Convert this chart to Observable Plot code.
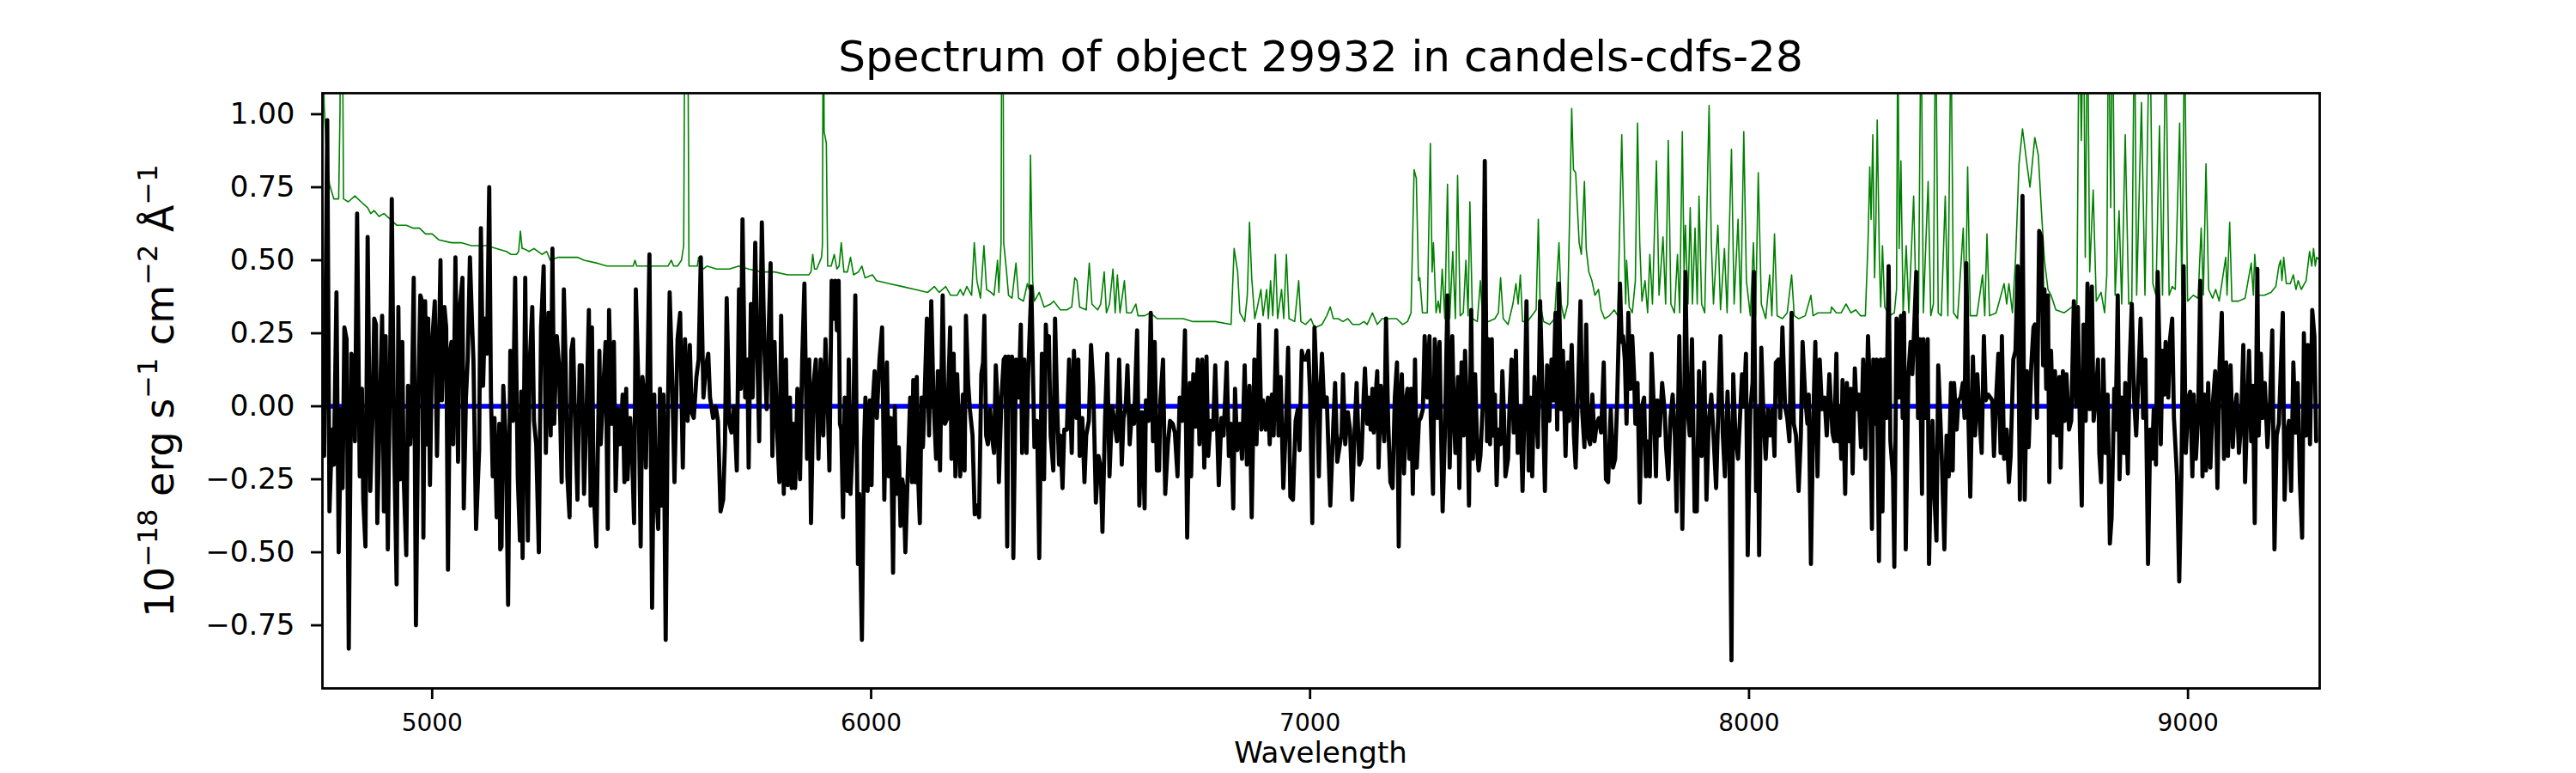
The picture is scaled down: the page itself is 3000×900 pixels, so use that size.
<!DOCTYPE html>
<html><head><meta charset="utf-8">
<script src="https://cdn.jsdelivr.net/npm/d3@7"></script>
<script src="https://cdn.jsdelivr.net/npm/@observablehq/plot@0.6"></script>
<style>body{margin:0;background:#fff}#chart svg{display:block}</style>
</head><body><div id="chart"></div>
<script>
const titleText = "Spectrum of object 29932 in candels-cdfs-28";
const xLabelText = "Wavelength";
const xTicks = [5000, 6000, 7000, 8000, 9000];
const yTicks = [-0.75, -0.5, -0.25, 0, 0.25, 0.5, 0.75, 1.0];
const xDomain = [4750, 9300];
const yDomain = [-0.966, 1.072];

// observed flux [wavelength, flux]
const observedFlux = [
[4754,-0.17],[4761,0.98],[4766,-0.36],[4772,-0.08],[4776,-0.20],[4782,0.39],[4787,-0.50],[4793,-0.01],[4796,-0.28],[4800,0.27],[4805,0.23],[4810,-0.83],[4816,0.18],[4820,0.16],[4824,-0.12],[4829,0.66],[4835,-0.24],[4840,0.06],[4843,-0.32],[4848,-0.48],[4853,0.58],[4859,-0.29],[4864,-0.04],[4868,0.30],[4872,0.28],[4875,-0.40],[4881,0.00],[4886,0.31],[4890,-0.36],[4894,0.24],[4899,-0.49],[4905,0.26],[4908,0.71],[4913,-0.10],[4919,-0.61],[4923,0.34],[4927,-0.25],[4932,0.22],[4935,-0.24],[4941,-0.51],[4945,0.07],[4950,-0.13],[4953,-0.04],[4958,0.44],[4963,-0.75],[4969,0.08],[4973,0.38],[4977,0.36],[4980,-0.45],[4984,0.36],[4988,-0.13],[4991,0.30],[4995,-0.27],[5000,0.22],[5006,0.36],[5011,-0.17],[5019,0.50],[5022,0.02],[5028,0.34],[5032,0.27],[5036,-0.56],[5041,0.19],[5044,0.22],[5048,-0.13],[5053,0.51],[5059,-0.19],[5063,0.34],[5069,0.44],[5072,-0.35],[5077,0.03],[5081,0.16],[5086,0.51],[5091,0.28],[5094,0.16],[5100,-0.42],[5107,-0.15],[5111,0.61],[5116,0.07],[5120,0.30],[5125,0.18],[5130,0.75],[5134,0.03],[5138,-0.24],[5142,-0.04],[5147,-0.38],[5153,-0.06],[5155,-0.49],[5158,-0.48],[5162,0.07],[5168,-0.13],[5173,-0.68],[5178,0.19],[5184,-0.05],[5189,0.44],[5195,-0.24],[5200,-0.46],[5203,0.05],[5206,-0.52],[5212,0.44],[5218,-0.46],[5222,0.14],[5228,0.34],[5232,-0.05],[5237,-0.13],[5243,-0.50],[5248,0.27],[5254,0.48],[5259,-0.16],[5265,0.32],[5270,-0.10],[5274,0.54],[5278,-0.06],[5284,0.24],[5289,0.14],[5295,-0.26],[5300,0.40],[5304,0.15],[5308,-0.24],[5313,-0.38],[5317,0.19],[5321,0.23],[5325,-0.02],[5331,-0.32],[5336,0.14],[5341,0.14],[5346,-0.30],[5352,0.00],[5357,0.33],[5361,-0.34],[5364,0.27],[5368,-0.29],[5374,-0.48],[5381,0.19],[5384,-0.13],[5390,0.06],[5395,0.22],[5400,-0.42],[5403,0.33],[5409,-0.06],[5414,0.22],[5418,-0.29],[5423,-0.01],[5428,-0.13],[5434,0.04],[5438,-0.26],[5442,0.06],[5445,-0.25],[5451,-0.04],[5455,-0.14],[5460,-0.40],[5464,0.40],[5470,0.06],[5475,-0.48],[5479,0.10],[5483,0.04],[5487,-0.21],[5495,0.52],[5501,-0.69],[5506,0.04],[5509,-0.26],[5515,-0.42],[5519,0.06],[5523,-0.34],[5527,0.04],[5532,-0.80],[5536,-0.13],[5541,0.39],[5546,0.14],[5552,-0.26],[5559,0.23],[5565,0.32],[5571,-0.21],[5576,0.23],[5582,-0.05],[5587,0.21],[5591,-0.02],[5596,-0.04],[5602,0.10],[5607,0.16],[5612,0.51],[5618,0.03],[5624,0.14],[5629,0.18],[5633,0.03],[5640,-0.04],[5646,0.00],[5651,-0.05],[5657,-0.36],[5663,-0.32],[5667,-0.13],[5671,0.37],[5677,-0.06],[5682,-0.09],[5688,0.00],[5694,-0.22],[5699,0.40],[5703,0.06],[5707,0.64],[5713,0.03],[5718,0.16],[5721,-0.21],[5726,0.35],[5730,0.03],[5736,0.56],[5740,0.23],[5745,-0.12],[5751,0.63],[5757,0.19],[5762,-0.01],[5767,0.28],[5771,0.49],[5775,-0.17],[5780,0.22],[5786,-0.09],[5791,-0.26],[5795,0.31],[5801,-0.30],[5806,0.16],[5810,-0.27],[5815,0.03],[5819,-0.28],[5823,-0.06],[5827,-0.28],[5832,0.06],[5838,-0.25],[5843,0.16],[5848,0.42],[5854,-0.18],[5859,0.16],[5863,-0.40],[5869,0.08],[5874,0.16],[5880,-0.18],[5885,0.16],[5891,-0.10],[5896,0.23],[5902,-0.04],
[5905,-0.22],[5910,0.43],[5915,0.30],[5918,0.43],[5922,0.26],[5926,0.43],[5929,-0.06],[5932,-0.08],[5936,-0.38],[5940,0.03],[5946,-0.29],[5949,0.16],[5953,-0.30],[5959,-0.09],[5964,0.38],[5970,-0.54],[5973,-0.30],[5979,-0.80],[5984,-0.13],[5987,0.03],[5992,-0.29],[5997,0.02],[6001,-0.27],[6004,0.02],[6008,0.12],[6013,-0.04],[6019,0.16],[6025,0.27],[6030,-0.32],[6036,0.15],[6040,-0.24],[6045,-0.04],[6050,-0.57],[6054,0.00],[6057,-0.30],[6063,-0.14],[6067,-0.41],[6071,-0.25],[6074,-0.28],[6078,-0.50],[6084,-0.20],[6089,0.03],[6093,-0.26],[6096,0.09],[6100,-0.26],[6104,0.10],[6107,-0.24],[6111,-0.40],[6115,0.03],[6118,-0.14],[6122,0.04],[6127,0.30],[6132,-0.10],[6137,0.36],[6142,0.03],[6148,-0.18],[6152,0.12],[6157,-0.22],[6163,0.38],[6168,-0.06],[6174,-0.04],[6180,0.27],[6183,-0.18],[6188,0.18],[6192,-0.24],[6196,0.11],[6199,-0.04],[6203,-0.24],[6209,0.04],[6213,-0.22],[6216,0.31],[6221,0.08],[6225,-0.01],[6231,-0.10],[6236,-0.37],[6241,-0.34],[6246,-0.38],[6251,0.11],[6255,0.15],[6258,0.31],[6262,-0.10],[6266,-0.13],[6271,-0.01],[6275,-0.10],[6280,-0.16],[6284,0.14],[6288,0.02],[6291,-0.26],[6297,0.03],[6302,0.16],[6306,0.17],[6310,-0.48],[6313,0.17],[6317,0.00],[6321,0.17],[6324,-0.52],[6330,0.16],[6336,0.03],[6341,0.28],[6344,-0.16],[6349,0.16],[6354,-0.16],[6358,0.12],[6365,0.41],[6372,-0.14],[6378,-0.05],[6383,-0.52],[6389,0.18],[6394,-0.25],[6398,0.28],[6402,0.16],[6405,0.24],[6409,-0.10],[6415,-0.22],[6419,0.30],[6424,-0.01],[6428,-0.20],[6431,-0.10],[6436,-0.28],[6440,-0.08],[6446,-0.08],[6451,0.16],[6457,-0.16],[6462,0.19],[6468,-0.04],[6472,0.16],[6475,-0.17],[6481,-0.04],[6486,-0.26],[6490,-0.10],[6496,-0.05],[6501,0.21],[6506,0.07],[6512,-0.33],[6518,-0.17],[6523,-0.21],[6527,-0.43],[6533,-0.04],[6538,0.18],[6543,-0.24],[6549,0.00],[6554,-0.05],[6560,-0.12],[6565,0.16],[6571,-0.20],[6575,-0.04],[6580,0.00],[6584,0.14],[6589,-0.13],[6595,0.00],[6599,-0.06],[6606,0.26],[6611,-0.34],[6617,-0.02],[6623,-0.35],[6626,0.02],[6632,-0.05],[6637,0.32],[6642,-0.12],[6646,0.22],[6651,-0.22],[6656,-0.22],[6659,0.02],[6665,0.16],[6670,-0.30],[6676,-0.13],[6681,-0.05],[6687,-0.06],[6692,-0.09],[6698,-0.24],[6703,0.03],[6709,-0.05],[6715,0.26],[6720,-0.45],[6726,0.08],[6729,-0.24],[6734,0.11],[6739,-0.07],[6744,0.16],[6748,-0.13],[6754,0.16],[6759,-0.21],[6764,0.17],[6768,-0.17],[6773,-0.05],[6779,-0.08],[6784,0.14],[6792,-0.27],[6798,-0.04],[6803,-0.10],[6810,0.15],[6815,-0.17],[6820,-0.06],[6825,-0.35],[6829,0.06],[6834,-0.15],[6840,-0.06],[6845,-0.18],[6851,0.14],[6856,-0.20],[6862,0.07],[6867,-0.38],[6873,0.16],[6878,-0.13],[6884,0.28],[6889,-0.08],[6893,0.02],[6899,-0.08],[6904,0.03],[6908,-0.13],[6913,0.04],[6917,-0.10],[6923,0.26],[6928,-0.10],[6933,0.10],[6939,-0.28],[6945,-0.06],[6950,0.20],[6955,-0.31],[6961,-0.32],[6967,-0.05],[6972,-0.01],[6976,-0.15],[6981,0.19],[6985,0.16],[6990,0.16],[6996,0.19],[7000,0.04],[7005,-0.40],[7010,0.27],[7016,0.03],[7020,-0.24],[7024,0.07],[7027,0.18],[7032,0.00],[7038,0.03],[7046,-0.34],
[7053,-0.06],[7057,0.08],[7062,-0.19],[7068,-0.13],[7072,-0.09],[7075,0.11],[7080,-0.13],[7086,-0.02],[7091,-0.08],[7096,-0.32],[7101,-0.10],[7106,0.08],[7112,-0.20],[7117,-0.18],[7122,0.03],[7125,0.13],[7130,-0.06],[7134,0.03],[7138,-0.08],[7142,0.06],[7145,-0.09],[7149,0.03],[7153,0.12],[7156,-0.21],[7161,0.07],[7166,-0.06],[7169,-0.12],[7173,0.30],[7178,-0.06],[7183,-0.26],[7188,-0.28],[7193,0.03],[7198,0.15],[7202,-0.48],[7206,0.02],[7209,0.11],[7214,-0.23],[7219,0.03],[7222,0.06],[7226,-0.18],[7230,0.06],[7234,-0.30],[7239,0.16],[7243,-0.21],[7248,-0.05],[7252,-0.04],[7257,-0.01],[7261,0.24],[7267,0.03],[7272,0.24],[7275,-0.04],[7280,-0.30],[7284,0.23],[7287,0.16],[7290,-0.04],[7295,0.22],[7298,-0.06],[7302,-0.36],[7307,-0.10],[7313,0.38],[7318,-0.21],[7324,0.24],[7328,-0.05],[7331,-0.16],[7337,0.10],[7340,-0.28],[7345,0.15],[7350,-0.10],[7353,0.19],[7359,-0.08],[7362,-0.34],[7367,0.33],[7371,-0.18],[7376,0.11],[7381,-0.16],[7384,-0.22],[7388,-0.17],[7393,-0.01],[7398,0.84],[7403,-0.12],[7406,0.23],[7410,-0.13],[7414,0.23],[7417,-0.10],[7421,0.04],[7425,-0.27],[7429,-0.08],[7434,-0.13],[7438,0.12],[7442,-0.04],[7445,-0.24],[7451,-0.18],[7454,-0.02],[7459,0.16],[7464,-0.09],[7469,0.19],[7473,-0.16],[7479,0.00],[7484,-0.29],[7489,0.02],[7493,0.36],[7498,-0.22],[7502,0.03],[7506,-0.24],[7511,0.10],[7515,0.00],[7519,-0.14],[7524,0.36],[7530,0.03],[7535,-0.29],[7540,0.14],[7545,-0.05],[7550,0.16],[7554,0.02],[7559,0.32],[7563,-0.08],[7567,0.42],[7572,-0.01],[7576,0.19],[7582,-0.17],[7587,0.15],[7590,-0.05],[7596,0.21],[7601,-0.10],[7605,-0.21],[7610,0.03],[7616,0.36],[7620,-0.02],[7625,-0.14],[7629,0.28],[7633,-0.10],[7638,-0.13],[7643,0.04],[7648,-0.12],[7653,-0.06],[7658,-0.04],[7663,-0.09],[7669,0.15],[7674,-0.25],[7679,-0.26],[7685,-0.01],[7690,-0.21],[7695,-0.18],[7699,-0.01],[7706,0.42],[7710,0.22],[7713,0.24],[7717,0.16],[7721,-0.06],[7725,0.32],[7730,0.06],[7734,0.24],[7738,0.11],[7741,-0.06],[7746,0.08],[7751,-0.33],[7756,0.00],[7761,0.03],[7765,-0.24],[7769,-0.12],[7774,-0.24],[7778,0.18],[7783,0.00],[7788,-0.24],[7791,0.02],[7796,-0.10],[7802,0.08],[7808,-0.02],[7811,-0.14],[7816,-0.25],[7821,-0.04],[7826,0.04],[7831,-0.10],[7835,-0.36],[7841,0.24],[7844,0.00],[7848,-0.42],[7852,-0.08],[7855,0.46],[7860,-0.01],[7865,-0.10],[7870,0.23],[7876,-0.36],[7881,-0.36],[7886,0.12],[7892,-0.17],[7898,0.15],[7903,-0.32],[7908,-0.06],[7914,0.04],[7919,-0.10],[7925,-0.28],[7930,-0.01],[7935,0.24],[7940,-0.09],[7945,-0.24],[7951,0.05],[7955,-0.10],[7960,-0.87],[7964,0.11],[7969,-0.10],[7975,-0.18],[7979,-0.05],[7984,0.11],[7988,0.00],[7993,0.18],[7997,-0.51],[8003,-0.01],[8008,0.08],[8011,0.46],[8016,-0.29],[8020,-0.01],[8023,-0.51],[8028,0.20],[8033,-0.04],[8038,-0.18],[8043,-0.01],[8048,-0.10],[8053,-0.01],[8058,-0.17],[8061,0.15],[8067,0.16],[8071,-0.04],[8076,0.27],[8082,0.00],[8087,-0.04],[8092,-0.12],[8097,0.32],[8102,-0.06],[8107,-0.10],[8113,-0.29],[8118,-0.10],[8122,0.22],[8128,0.03],[8133,-0.06],[8136,0.04],[8141,-0.54],[8146,-0.06],[8151,0.22],[8156,-0.24],[8161,0.16],[8166,-0.01],[8172,0.03],[8177,-0.10],[8183,0.11],[8190,-0.09],
[8194,-0.12],[8199,0.18],[8202,-0.12],[8206,0.00],[8210,-0.18],[8213,0.09],[8219,-0.30],[8223,0.08],[8228,-0.12],[8232,0.06],[8236,-0.23],[8241,0.13],[8245,-0.01],[8250,0.04],[8255,-0.14],[8260,0.16],[8265,-0.18],[8271,0.24],[8276,0.03],[8280,-0.42],[8283,0.16],[8287,-0.06],[8291,0.16],[8296,-0.53],[8300,0.16],[8304,-0.36],[8308,0.16],[8313,-0.04],[8318,0.48],[8322,-0.12],[8328,-0.24],[8331,-0.55],[8336,0.30],[8341,0.03],[8346,0.31],[8350,-0.04],[8353,0.32],[8357,-0.49],[8363,0.11],[8368,0.22],[8372,0.11],[8375,0.22],[8381,0.46],[8385,-0.04],[8389,0.23],[8394,-0.30],[8397,0.23],[8403,-0.04],[8407,0.23],[8410,-0.54],[8414,-0.24],[8418,-0.05],[8422,-0.30],[8427,-0.46],[8431,0.14],[8434,0.03],[8439,-0.17],[8445,-0.49],[8450,-0.10],[8455,-0.24],[8460,0.08],[8464,-0.22],[8467,0.08],[8473,-0.08],[8477,0.02],[8482,0.03],[8487,0.08],[8491,-0.04],[8495,0.49],[8500,-0.06],[8504,-0.31],[8510,0.17],[8515,-0.10],[8520,0.11],[8525,-0.04],[8530,-0.16],[8535,0.24],[8539,0.02],[8545,0.04],[8550,0.03],[8554,0.02],[8558,-0.17],[8563,0.03],[8568,0.18],[8573,-0.16],[8576,0.24],[8581,-0.18],[8587,-0.08],[8592,-0.26],[8596,-0.17],[8602,0.16],[8607,0.19],[8612,0.48],[8617,-0.32],[8620,0.16],[8623,0.72],[8628,-0.32],[8633,0.12],[8637,-0.14],[8643,0.14],[8648,0.27],[8651,0.28],[8656,-0.04],[8661,0.60],[8666,0.58],[8670,0.14],[8673,0.40],[8677,0.06],[8681,0.38],[8684,-0.26],[8688,0.19],[8693,-0.09],[8697,0.12],[8701,-0.10],[8707,0.10],[8710,-0.21],[8715,0.12],[8719,-0.05],[8723,0.11],[8729,-0.08],[8734,-0.05],[8740,0.36],[8745,0.00],[8749,0.34],[8754,-0.10],[8758,-0.34],[8762,0.28],[8767,-0.05],[8771,0.42],[8776,-0.01],[8781,0.41],[8785,-0.05],[8790,0.03],[8795,0.16],[8798,-0.16],[8802,-0.26],[8807,0.16],[8812,-0.16],[8817,0.04],[8822,-0.47],[8826,-0.38],[8832,0.06],[8835,-0.08],[8840,0.38],[8844,-0.25],[8849,0.03],[8854,-0.16],[8857,0.08],[8863,-0.23],[8867,0.14],[8872,0.35],[8877,0.03],[8882,-0.10],[8887,0.10],[8892,0.30],[8898,-0.04],[8903,0.16],[8909,-0.54],[8914,-0.08],[8918,-0.18],[8922,-0.01],[8927,-0.20],[8931,0.46],[8935,0.19],[8938,-0.13],[8942,0.19],[8946,0.04],[8949,0.22],[8955,0.03],[8959,0.23],[8964,0.30],[8968,-0.04],[8975,-0.24],[8980,-0.60],[8985,-0.24],[8990,0.48],[8995,-0.16],[9001,0.03],[9005,0.05],[9010,-0.24],[9013,0.04],[9018,-0.18],[9023,-0.04],[9028,0.43],[9033,-0.24],[9038,0.04],[9041,-0.22],[9046,0.08],[9051,-0.21],[9056,0.00],[9062,0.12],[9067,-0.28],[9072,0.15],[9077,0.32],[9082,-0.18],[9087,0.15],[9091,-0.17],[9097,0.14],[9102,-0.14],[9106,-0.02],[9111,0.04],[9116,-0.16],[9121,-0.06],[9126,0.21],[9130,-0.26],[9135,-0.01],[9139,0.19],[9144,-0.12],[9148,0.07],[9152,-0.40],[9158,0.47],[9161,-0.10],[9166,0.18],[9170,-0.04],[9175,0.08],[9181,-0.14],[9187,0.02],[9192,0.26],[9197,-0.49],[9202,-0.10],[9207,-0.06],[9211,0.11],[9216,0.32],[9220,-0.32],[9225,-0.10],[9230,-0.05],[9235,-0.29],[9240,0.15],[9245,-0.09],[9250,0.08],[9255,-0.26],[9260,-0.45],[9264,0.25],[9269,-0.10],[9273,0.21],[9278,-0.13],[9283,0.33],[9288,0.24],[9292,-0.12]
];

// noise / sky spectrum [wavelength, flux]
const skySpectrum = [
[4750,1.30],[4754,1.03],[4758,0.90],[4766,0.76],[4776,0.71],[4787,0.71],[4790,1.00],[4792,1.50],[4795,1.50],[4798,0.71],[4809,0.70],[4824,0.72],[4838,0.70],[4853,0.68],[4860,0.66],[4868,0.67],[4879,0.65],[4890,0.66],[4905,0.64],[4919,0.62],[4941,0.62],[4956,0.61],[4971,0.61],[4985,0.59],[5000,0.59],[5015,0.57],[5044,0.56],[5066,0.56],[5089,0.55],[5103,0.55],[5125,0.55],[5147,0.54],[5169,0.53],[5180,0.52],[5192,0.52],[5197,0.53],[5201,0.60],[5205,0.54],[5208,0.54],[5221,0.53],[5232,0.54],[5250,0.52],[5261,0.53],[5269,0.50],[5287,0.51],[5309,0.51],[5331,0.51],[5346,0.50],[5376,0.49],[5398,0.48],[5412,0.48],[5434,0.48],[5458,0.48],[5462,0.50],[5466,0.48],[5486,0.48],[5515,0.48],[5537,0.48],[5545,0.50],[5550,0.48],[5559,0.48],[5568,0.50],[5573,0.55],[5576,1.50],[5582,1.50],[5585,0.48],[5596,0.48],[5604,0.48],[5607,0.51],[5611,0.48],[5618,0.47],[5626,0.48],[5648,0.47],[5677,0.47],[5699,0.48],[5721,0.47],[5751,0.46],[5780,0.46],[5810,0.45],[5832,0.45],[5858,0.45],[5863,0.46],[5867,0.52],[5871,0.47],[5876,0.47],[5887,0.51],[5889,0.55],[5891,1.50],[5893,0.94],[5898,0.90],[5901,0.48],
[5903,0.48],[5909,0.48],[5916,0.52],[5922,0.47],[5927,0.48],[5932,0.56],[5938,0.46],[5946,0.46],[5953,0.51],[5960,0.45],[5971,0.46],[5979,0.48],[5986,0.44],[6003,0.45],[6012,0.43],[6041,0.42],[6071,0.41],[6100,0.40],[6129,0.39],[6144,0.41],[6155,0.39],[6170,0.41],[6181,0.38],[6196,0.38],[6203,0.40],[6210,0.38],[6218,0.41],[6229,0.38],[6235,0.56],[6241,0.43],[6249,0.37],[6257,0.55],[6263,0.40],[6273,0.39],[6280,0.38],[6288,0.50],[6291,0.39],[6296,0.56],[6298,1.60],[6300,1.60],[6302,0.56],[6308,0.47],[6313,0.38],[6321,0.37],[6330,0.49],[6336,0.37],[6347,0.36],[6356,0.42],[6360,0.40],[6363,0.86],[6368,0.43],[6372,0.36],[6383,0.39],[6394,0.34],[6409,0.35],[6416,0.36],[6431,0.33],[6446,0.33],[6457,0.34],[6464,0.44],[6469,0.43],[6475,0.34],[6490,0.33],[6497,0.49],[6503,0.35],[6516,0.33],[6523,0.35],[6531,0.46],[6536,0.32],[6543,0.35],[6551,0.47],[6556,0.32],[6561,0.45],[6567,0.32],[6577,0.43],[6582,0.32],[6593,0.32],[6603,0.35],[6608,0.31],[6623,0.31],[6636,0.32],[6652,0.30],[6667,0.30],[6689,0.30],[6711,0.30],[6733,0.29],[6762,0.29],[6784,0.29],[6820,0.28],[6827,0.54],[6835,0.46],[6840,0.32],[6851,0.29],[6857,0.38],[6862,0.63],[6867,0.44],[6874,0.30],[6880,0.34],[6888,0.40],[6893,0.31],[6901,0.40],[6905,0.30],[6910,0.43],[6915,0.31],[6921,0.52],[6926,0.30],[6935,0.40],[6940,0.30],[6946,0.52],[6952,0.30],[6965,0.29],[6974,0.43],[6979,0.29],[6990,0.28],[7002,0.30],[7007,0.28],[7013,0.27],[7027,0.28],[7038,0.31],[7046,0.34],
[7053,0.30],[7064,0.30],[7075,0.29],[7086,0.30],[7097,0.28],[7112,0.28],[7123,0.29],[7130,0.28],[7142,0.32],[7153,0.28],[7164,0.30],[7175,0.30],[7186,0.30],[7197,0.30],[7211,0.28],[7222,0.29],[7230,0.32],[7237,0.81],[7242,0.78],[7247,0.43],[7250,0.44],[7256,0.32],[7267,0.32],[7274,0.90],[7278,0.46],[7281,0.56],[7287,0.32],[7292,0.36],[7296,0.32],[7301,0.47],[7307,0.30],[7313,0.76],[7318,0.30],[7325,0.53],[7331,0.30],[7336,0.79],[7342,0.31],[7349,0.32],[7355,0.50],[7360,0.31],[7364,0.70],[7370,0.30],[7381,0.29],[7388,0.43],[7393,0.30],[7406,0.29],[7421,0.30],[7429,0.32],[7434,0.44],[7440,0.30],[7451,0.28],[7462,0.35],[7469,0.42],[7474,0.35],[7479,0.45],[7484,0.29],[7495,0.29],[7510,0.32],[7515,0.33],[7520,0.64],[7524,0.35],[7532,0.29],[7546,0.28],[7557,0.30],[7567,0.56],[7572,0.35],[7579,0.30],[7587,0.35],[7592,0.70],[7596,1.02],[7600,0.81],[7605,0.80],[7613,0.56],[7618,0.52],[7625,0.77],[7629,0.54],[7635,0.46],[7642,0.43],[7649,0.38],[7657,0.40],[7663,0.33],[7671,0.30],[7682,0.31],[7693,0.33],[7701,0.31],[7706,0.66],[7710,0.93],[7714,0.66],[7719,0.35],[7721,0.50],[7727,0.34],[7734,0.32],[7741,0.43],[7746,0.97],[7751,0.56],[7756,0.36],[7763,0.43],[7769,0.32],[7774,0.52],[7780,0.35],[7789,0.84],[7795,0.38],[7804,0.58],[7810,0.35],[7816,0.91],[7822,0.35],[7830,0.32],[7837,0.52],[7842,0.32],[7848,0.94],[7852,0.46],[7855,0.62],[7861,0.35],[7866,0.68],[7871,0.35],[7877,0.61],[7882,0.35],[7886,0.72],[7892,0.35],[7899,0.32],[7909,1.03],[7914,0.56],[7919,0.35],[7929,0.62],[7935,0.33],[7944,0.54],[7950,0.32],[7960,0.88],[7966,0.35],[7975,0.64],[7981,0.32],[7988,0.94],[7994,0.43],[8003,0.31],[8010,0.56],[8015,0.31],[8021,0.80],[8028,0.35],[8038,0.30],[8047,0.45],[8052,0.31],[8058,0.59],[8064,0.31],[8076,0.30],[8087,0.32],[8097,0.45],[8103,0.31],[8113,0.30],[8128,0.31],[8141,0.38],[8146,0.31],[8157,0.32],[8172,0.32],[8186,0.32],
[8188,0.34],[8199,0.32],[8210,0.32],[8221,0.35],[8232,0.32],[8243,0.33],[8254,0.31],[8265,0.31],[8271,0.56],[8275,0.82],[8278,0.64],[8282,0.93],[8286,0.44],[8289,0.63],[8292,0.98],[8297,0.50],[8300,0.34],[8304,0.55],[8309,0.34],[8320,0.31],[8331,0.32],[8336,0.40],[8339,1.40],[8342,0.54],[8346,0.84],[8351,0.32],[8358,0.55],[8364,0.32],[8375,0.72],[8381,0.31],[8386,0.32],[8392,1.40],[8397,0.32],[8408,0.77],[8414,0.31],[8420,0.35],[8425,1.40],[8431,0.32],[8438,0.31],[8447,0.72],[8453,0.31],[8460,1.30],[8466,0.32],[8475,0.30],[8488,0.61],[8493,0.31],[8498,0.82],[8504,0.31],[8519,0.31],[8532,0.45],[8537,0.31],[8542,0.59],[8548,0.31],[8563,0.32],[8581,0.42],[8587,0.35],[8592,0.42],[8600,0.32],[8607,0.50],[8615,0.83],[8623,0.95],[8633,0.83],[8640,0.75],[8651,0.92],[8659,0.86],[8666,0.67],[8673,0.50],[8681,0.40],[8688,0.38],[8699,0.33],[8718,0.32],[8736,0.34],[8747,0.35],[8752,1.40],[8757,0.91],[8762,1.40],[8766,0.51],[8771,1.40],[8776,0.46],[8784,0.74],[8791,0.36],[8802,0.39],[8810,0.32],[8815,0.45],[8819,1.40],[8824,0.68],[8828,1.40],[8834,0.38],[8843,0.67],[8849,0.35],[8857,0.93],[8865,0.35],[8872,0.36],[8878,1.40],[8883,0.38],[8894,1.04],[8902,0.38],[8913,1.40],[8920,0.42],[8927,0.38],[8935,0.96],[8942,0.38],[8949,1.30],[8957,0.38],[8964,0.41],[8971,0.40],[8981,0.97],[8986,0.38],[8992,1.30],[8999,0.36],[9012,0.38],[9023,0.37],[9030,0.61],[9035,0.38],[9041,0.83],[9047,0.40],[9056,0.37],[9063,0.40],[9071,0.36],[9086,0.51],[9089,0.38],[9095,0.63],[9100,0.36],[9115,0.36],[9130,0.37],[9144,0.49],[9149,0.38],[9152,0.52],[9159,0.38],[9174,0.38],[9189,0.39],[9200,0.41],[9207,0.48],[9211,0.50],[9214,0.43],[9218,0.51],[9224,0.42],[9233,0.42],[9240,0.45],[9246,0.40],[9251,0.43],[9258,0.40],[9269,0.43],[9277,0.53],[9282,0.48],[9286,0.54],[9290,0.48],[9293,0.51],[9300,0.50]
];

// model [wavelength, flux]
const modelFlux = [[4750,0.0],[9300,0.0]];

const toRows = arr => arr.map(([w, f]) => ({w, f}));

const plot = Plot.plot({
  width: 3000,
  height: 900,
  marginLeft: 375,
  marginRight: 299,
  marginTop: 108,
  marginBottom: 99,
  style: {fontFamily: "DejaVu Sans", background: "white", overflow: "visible", color: "black"},
  x: {domain: xDomain, label: null},
  y: {domain: yDomain, label: null},
  marks: [
    Plot.line(toRows(skySpectrum), {x: "w", y: "f", stroke: "green", strokeWidth: 1.6, clip: true}),
    Plot.line(toRows(modelFlux), {x: "w", y: "f", stroke: "blue", strokeWidth: 5.5, clip: true}),
    Plot.line(toRows(observedFlux), {x: "w", y: "f", stroke: "black", strokeWidth: 4.8, clip: true, strokeLinejoin: "round"}),
    Plot.frame({stroke: "black", strokeWidth: 2.8}),
    Plot.axisX({ticks: xTicks, tickFormat: d3.format("d"), tickSize: 13, tickPadding: 17, fontSize: 28, strokeWidth: 2.8, label: null}),
    Plot.axisY({ticks: yTicks, tickFormat: d3.format(".2f"), tickSize: 13, tickPadding: 19, fontSize: 34, strokeWidth: 2.8, label: null})
  ]
});

const svg = d3.select(plot);
svg.append("text")
  .attr("x", 1538).attr("y", 83)
  .attr("text-anchor", "middle")
  .attr("font-size", 50).attr("fill", "black")
  .text(titleText);
svg.append("text")
  .attr("x", 1538).attr("y", 888)
  .attr("text-anchor", "middle")
  .attr("font-size", 34).attr("fill", "black")
  .text(xLabelText);

const yl = svg.append("text")
  .attr("transform", "translate(202,455) rotate(-90)")
  .attr("text-anchor", "middle")
  .attr("font-size", 46).attr("fill", "black");
const parts = [["10", false], ["\u221218", true], [" erg s", false], ["\u22121", true], [" cm", false], ["\u22122", true], [" \u00C5", false], ["\u22121", true]];
let raised = false;
for (const [t, sup] of parts) {
  const ts = yl.append("tspan").text(t);
  if (sup && !raised) { ts.attr("dy", -19).attr("font-size", 32); raised = true; }
  else if (sup) { ts.attr("font-size", 32); }
  else if (!sup && raised) { ts.attr("dy", 19); raised = false; }
}
document.getElementById("chart").appendChild(plot);
</script></body></html>
